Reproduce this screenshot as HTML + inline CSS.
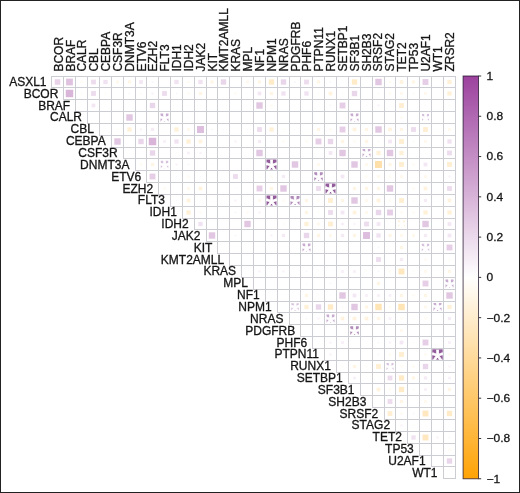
<!DOCTYPE html><html><head><meta charset="utf-8"><title>corrplot</title>
<style>html,body{margin:0;padding:0;background:#fff}body{width:520px;height:493px;overflow:hidden;position:relative}svg{position:absolute;left:0;top:0;display:block}text{font-family:"Liberation Sans",Arial,Helvetica,sans-serif;fill:#151515}.l text{stroke:#151515;stroke-width:.3px}.s text{fill:#fff;stroke:#fff;stroke-width:.7px;font-size:30px;text-anchor:middle}</style></head><body>
<svg width="520" height="493" viewBox="0 0 520 493">
<defs><linearGradient id="cb" x1="0" y1="0" x2="0" y2="1"><stop offset="0" stop-color="rgb(156,66,158)"/><stop offset="0.5" stop-color="#ffffff"/><stop offset="1" stop-color="rgb(255,163,5)"/></linearGradient></defs>
<rect x="0" y="0" width="520" height="493" fill="#fff"/>
<g><rect x="160.50" y="113.50" width="8.00" height="8.00" fill="#c8acd0"/><rect x="350.50" y="113.50" width="8.00" height="8.00" fill="#c8acd0"/><rect x="422.00" y="114.00" width="7.00" height="7.00" fill="#d6c2dc"/><rect x="362.50" y="149.00" width="8.00" height="8.00" fill="#c8acd0"/><rect x="160.75" y="160.75" width="7.50" height="7.50" fill="#d6c2dc"/><rect x="266.50" y="159.50" width="10.00" height="10.00" fill="#925c9a"/><rect x="314.25" y="172.25" width="8.50" height="8.50" fill="#b08ab8"/><rect x="325.50" y="183.50" width="10.00" height="10.00" fill="#925c9a"/><rect x="266.50" y="195.50" width="10.00" height="10.00" fill="#925c9a"/><rect x="290.50" y="196.00" width="9.00" height="9.00" fill="#b08ab8"/><rect x="398.00" y="220.50" width="7.00" height="7.00" fill="#fff0d7"/><rect x="302.50" y="243.50" width="8.00" height="8.00" fill="#c8acd0"/><rect x="421.75" y="243.75" width="7.50" height="7.50" fill="#d6c2dc"/><rect x="445.50" y="279.50" width="8.00" height="8.00" fill="#c8acd0"/><rect x="291.25" y="303.25" width="7.50" height="7.50" fill="#d6c2dc"/><rect x="433.50" y="303.00" width="8.00" height="8.00" fill="#c8acd0"/><rect x="326.50" y="314.50" width="8.00" height="8.00" fill="#c8acd0"/><rect x="350.25" y="326.25" width="8.50" height="8.50" fill="#b08ab8"/><rect x="432.30" y="349.30" width="10.40" height="10.40" fill="#925c9a"/><rect x="386.50" y="363.00" width="7.00" height="7.00" fill="#d6c2dc"/></g>
<g class="s"><text x="164.50" y="132.70">*</text><text x="354.50" y="132.70">*</text><text x="425.50" y="132.70">*</text><text x="366.50" y="168.20">*</text><text x="164.50" y="179.70">*</text><text x="271.50" y="179.70">*</text><text x="318.50" y="191.70">*</text><text x="330.50" y="203.70">*</text><text x="271.50" y="215.70">*</text><text x="295.00" y="215.70">*</text><text x="401.50" y="239.20">*</text><text x="306.50" y="262.70">*</text><text x="425.50" y="262.70">*</text><text x="449.50" y="298.70">*</text><text x="295.00" y="322.20">*</text><text x="437.50" y="322.20">*</text><text x="330.50" y="333.70">*</text><text x="354.50" y="345.70">*</text><text x="437.50" y="369.70">*</text><text x="390.00" y="381.70">*</text></g>
<g><rect x="54.72" y="79.22" width="5.56" height="5.56" fill="#e8d3e8"/><rect x="66.13" y="78.63" width="6.74" height="6.74" fill="#dfc2e0"/><rect x="80.43" y="80.93" width="2.14" height="2.14" fill="#fff9ee"/><rect x="91.09" y="79.59" width="4.82" height="4.82" fill="#eddced"/><rect x="103.36" y="79.86" width="4.28" height="4.28" fill="#f0e2f0"/><rect x="116.16" y="80.66" width="2.68" height="2.68" fill="#fff7ea"/><rect x="127.89" y="80.39" width="3.21" height="3.21" fill="#fff5e5"/><rect x="139.13" y="80.13" width="3.75" height="3.75" fill="#f2e7f3"/><rect x="151.70" y="81.20" width="1.60" height="1.60" fill="#f9f4fa"/><rect x="174.36" y="79.86" width="4.28" height="4.28" fill="#f0e2f0"/><rect x="187.43" y="80.93" width="2.14" height="2.14" fill="#fff9ee"/><rect x="198.36" y="79.86" width="4.28" height="4.28" fill="#f0e2f0"/><rect x="210.40" y="80.39" width="3.21" height="3.21" fill="#fff5e5"/><rect x="220.82" y="79.33" width="5.35" height="5.35" fill="#e9d6ea"/><rect x="246.16" y="80.66" width="2.68" height="2.68" fill="#fff7ea"/><rect x="257.89" y="80.39" width="3.21" height="3.21" fill="#fff5e5"/><rect x="268.82" y="79.33" width="5.35" height="5.35" fill="#ffebc8"/><rect x="280.82" y="79.33" width="5.35" height="5.35" fill="#e9d6ea"/><rect x="294.20" y="81.20" width="1.60" height="1.60" fill="#f9f4fa"/><rect x="304.09" y="79.59" width="4.82" height="4.82" fill="#eddced"/><rect x="316.89" y="80.39" width="3.21" height="3.21" fill="#fff5e5"/><rect x="329.70" y="81.20" width="1.60" height="1.60" fill="#f9f4fa"/><rect x="351.82" y="79.33" width="5.35" height="5.35" fill="#ffebc8"/><rect x="375.29" y="78.79" width="6.42" height="6.42" fill="#e2c7e2"/><rect x="388.93" y="80.93" width="2.14" height="2.14" fill="#fff9ee"/><rect x="399.63" y="80.13" width="3.75" height="3.75" fill="#fff3df"/><rect x="411.89" y="80.39" width="3.21" height="3.21" fill="#fff5e5"/><rect x="422.56" y="79.06" width="5.89" height="5.89" fill="#e6cfe6"/><rect x="447.36" y="79.86" width="4.28" height="4.28" fill="#fff1d8"/><rect x="65.75" y="89.75" width="7.49" height="7.49" fill="#d8b5d9"/><rect x="80.70" y="92.70" width="1.60" height="1.60" fill="#fffaf1"/><rect x="91.09" y="91.09" width="4.82" height="4.82" fill="#eddced"/><rect x="104.70" y="92.70" width="1.60" height="1.60" fill="#fffaf1"/><rect x="128.70" y="92.70" width="1.60" height="1.60" fill="#f9f4fa"/><rect x="140.20" y="92.70" width="1.60" height="1.60" fill="#fffaf1"/><rect x="151.43" y="92.43" width="2.14" height="2.14" fill="#f8f2f8"/><rect x="162.09" y="91.09" width="4.82" height="4.82" fill="#eddced"/><rect x="175.70" y="92.70" width="1.60" height="1.60" fill="#f9f4fa"/><rect x="187.43" y="92.43" width="2.14" height="2.14" fill="#fff9ee"/><rect x="198.90" y="91.89" width="3.21" height="3.21" fill="#fff5e5"/><rect x="234.43" y="92.43" width="2.14" height="2.14" fill="#fff9ee"/><rect x="246.97" y="92.97" width="1.07" height="1.07" fill="#fffbf3"/><rect x="257.63" y="91.63" width="3.75" height="3.75" fill="#f2e7f3"/><rect x="269.89" y="91.89" width="3.21" height="3.21" fill="#fff5e5"/><rect x="281.36" y="91.36" width="4.28" height="4.28" fill="#f0e2f0"/><rect x="304.36" y="91.36" width="4.28" height="4.28" fill="#f0e2f0"/><rect x="317.70" y="92.70" width="1.60" height="1.60" fill="#fffaf1"/><rect x="328.63" y="91.63" width="3.75" height="3.75" fill="#fff3df"/><rect x="341.96" y="92.97" width="1.07" height="1.07" fill="#faf6fa"/><rect x="351.82" y="90.83" width="5.35" height="5.35" fill="#e9d6ea"/><rect x="377.70" y="92.70" width="1.60" height="1.60" fill="#fffaf1"/><rect x="388.93" y="92.43" width="2.14" height="2.14" fill="#fff9ee"/><rect x="400.16" y="92.16" width="2.68" height="2.68" fill="#fff7ea"/><rect x="412.70" y="92.70" width="1.60" height="1.60" fill="#fffaf1"/><rect x="424.16" y="92.16" width="2.68" height="2.68" fill="#fff7ea"/><rect x="436.96" y="92.97" width="1.07" height="1.07" fill="#fffbf3"/><rect x="447.36" y="91.36" width="4.28" height="4.28" fill="#fff1d8"/><rect x="91.63" y="103.63" width="3.75" height="3.75" fill="#f2e7f3"/><rect x="149.82" y="102.83" width="5.35" height="5.35" fill="#e9d6ea"/><rect x="187.97" y="104.97" width="1.07" height="1.07" fill="#faf6fa"/><rect x="199.97" y="104.97" width="1.07" height="1.07" fill="#fffbf3"/><rect x="256.29" y="102.29" width="6.42" height="6.42" fill="#e2c7e2"/><rect x="270.43" y="104.43" width="2.14" height="2.14" fill="#fff9ee"/><rect x="329.70" y="104.70" width="1.60" height="1.60" fill="#f9f4fa"/><rect x="339.56" y="102.56" width="5.89" height="5.89" fill="#e6cfe6"/><rect x="365.96" y="104.97" width="1.07" height="1.07" fill="#faf6fa"/><rect x="377.43" y="104.43" width="2.14" height="2.14" fill="#f8f2f8"/><rect x="399.09" y="103.09" width="4.82" height="4.82" fill="#ffeed1"/><rect x="424.96" y="104.97" width="1.07" height="1.07" fill="#faf6fa"/><rect x="448.70" y="104.70" width="1.60" height="1.60" fill="#fffaf1"/><rect x="126.29" y="114.29" width="6.42" height="6.42" fill="#e2c7e2"/><rect x="187.97" y="116.97" width="1.07" height="1.07" fill="#faf6fa"/><rect x="377.96" y="116.97" width="1.07" height="1.07" fill="#fffbf3"/><rect x="400.43" y="116.43" width="2.14" height="2.14" fill="#fff9ee"/><rect x="448.96" y="116.97" width="1.07" height="1.07" fill="#fffbf3"/><rect x="116.70" y="128.70" width="1.60" height="1.60" fill="#fffaf1"/><rect x="127.36" y="127.36" width="4.28" height="4.28" fill="#fff1d8"/><rect x="139.93" y="128.43" width="2.14" height="2.14" fill="#f8f2f8"/><rect x="150.90" y="127.89" width="3.21" height="3.21" fill="#f5ebf5"/><rect x="163.97" y="128.97" width="1.07" height="1.07" fill="#fffbf3"/><rect x="174.36" y="127.36" width="4.28" height="4.28" fill="#fff1d8"/><rect x="187.16" y="128.16" width="2.68" height="2.68" fill="#fff7ea"/><rect x="197.02" y="126.02" width="6.96" height="6.96" fill="#ddbede"/><rect x="211.20" y="128.70" width="1.60" height="1.60" fill="#f9f4fa"/><rect x="222.97" y="128.97" width="1.07" height="1.07" fill="#faf6fa"/><rect x="246.97" y="128.97" width="1.07" height="1.07" fill="#faf6fa"/><rect x="257.09" y="127.09" width="4.82" height="4.82" fill="#eddced"/><rect x="269.36" y="127.36" width="4.28" height="4.28" fill="#fff1d8"/><rect x="282.70" y="128.70" width="1.60" height="1.60" fill="#fffaf1"/><rect x="294.46" y="128.97" width="1.07" height="1.07" fill="#faf6fa"/><rect x="305.96" y="128.97" width="1.07" height="1.07" fill="#fffbf3"/><rect x="316.89" y="127.89" width="3.21" height="3.21" fill="#fff5e5"/><rect x="329.43" y="128.43" width="2.14" height="2.14" fill="#fff9ee"/><rect x="339.56" y="126.56" width="5.89" height="5.89" fill="#e6cfe6"/><rect x="352.63" y="127.63" width="3.75" height="3.75" fill="#fff3df"/><rect x="364.89" y="127.89" width="3.21" height="3.21" fill="#fff5e5"/><rect x="375.29" y="126.29" width="6.42" height="6.42" fill="#e2c7e2"/><rect x="388.13" y="127.63" width="3.75" height="3.75" fill="#fff3df"/><rect x="399.89" y="127.89" width="3.21" height="3.21" fill="#fff5e5"/><rect x="411.09" y="127.09" width="4.82" height="4.82" fill="#eddced"/><rect x="423.09" y="127.09" width="4.82" height="4.82" fill="#ffeed1"/><rect x="436.96" y="128.97" width="1.07" height="1.07" fill="#fffbf3"/><rect x="448.16" y="128.16" width="2.68" height="2.68" fill="#fff7ea"/><rect x="114.29" y="138.29" width="6.42" height="6.42" fill="#e2c7e2"/><rect x="138.32" y="138.82" width="5.35" height="5.35" fill="#e9d6ea"/><rect x="148.75" y="137.75" width="7.49" height="7.49" fill="#d8b5d9"/><rect x="163.16" y="140.16" width="2.68" height="2.68" fill="#f7eff7"/><rect x="174.36" y="139.36" width="4.28" height="4.28" fill="#f0e2f0"/><rect x="186.36" y="139.36" width="4.28" height="4.28" fill="#fff1d8"/><rect x="198.63" y="139.63" width="3.75" height="3.75" fill="#fff3df"/><rect x="234.43" y="140.43" width="2.14" height="2.14" fill="#f8f2f8"/><rect x="257.89" y="139.90" width="3.21" height="3.21" fill="#f5ebf5"/><rect x="270.70" y="140.70" width="1.60" height="1.60" fill="#f9f4fa"/><rect x="282.43" y="140.43" width="2.14" height="2.14" fill="#fff9ee"/><rect x="305.43" y="140.43" width="2.14" height="2.14" fill="#fff9ee"/><rect x="315.56" y="138.56" width="5.89" height="5.89" fill="#e6cfe6"/><rect x="327.82" y="138.82" width="5.35" height="5.35" fill="#e9d6ea"/><rect x="340.89" y="139.90" width="3.21" height="3.21" fill="#fff5e5"/><rect x="353.43" y="140.43" width="2.14" height="2.14" fill="#fff9ee"/><rect x="364.89" y="139.90" width="3.21" height="3.21" fill="#fff5e5"/><rect x="377.70" y="140.70" width="1.60" height="1.60" fill="#fffaf1"/><rect x="388.13" y="139.63" width="3.75" height="3.75" fill="#f2e7f3"/><rect x="399.09" y="139.09" width="4.82" height="4.82" fill="#ffeed1"/><rect x="412.70" y="140.70" width="1.60" height="1.60" fill="#fffaf1"/><rect x="424.16" y="140.16" width="2.68" height="2.68" fill="#fff7ea"/><rect x="447.36" y="139.36" width="4.28" height="4.28" fill="#f0e2f0"/><rect x="149.82" y="150.32" width="5.35" height="5.35" fill="#e9d6ea"/><rect x="175.97" y="152.47" width="1.07" height="1.07" fill="#fffbf3"/><rect x="187.16" y="151.66" width="2.68" height="2.68" fill="#f7eff7"/><rect x="199.43" y="151.93" width="2.14" height="2.14" fill="#f8f2f8"/><rect x="256.29" y="149.79" width="6.42" height="6.42" fill="#e2c7e2"/><rect x="328.63" y="151.13" width="3.75" height="3.75" fill="#f2e7f3"/><rect x="339.29" y="149.79" width="6.42" height="6.42" fill="#e2c7e2"/><rect x="376.36" y="150.86" width="4.28" height="4.28" fill="#fff1d8"/><rect x="386.79" y="149.79" width="6.42" height="6.42" fill="#e2c7e2"/><rect x="399.36" y="150.86" width="4.28" height="4.28" fill="#fff1d8"/><rect x="424.96" y="152.47" width="1.07" height="1.07" fill="#fffbf3"/><rect x="447.09" y="150.59" width="4.82" height="4.82" fill="#eddced"/><rect x="139.93" y="163.43" width="2.14" height="2.14" fill="#fff9ee"/><rect x="150.90" y="162.90" width="3.21" height="3.21" fill="#fff5e5"/><rect x="175.43" y="163.43" width="2.14" height="2.14" fill="#f8f2f8"/><rect x="187.70" y="163.70" width="1.60" height="1.60" fill="#f9f4fa"/><rect x="211.47" y="163.97" width="1.07" height="1.07" fill="#faf6fa"/><rect x="282.96" y="163.97" width="1.07" height="1.07" fill="#fffbf3"/><rect x="291.79" y="161.29" width="6.42" height="6.42" fill="#e2c7e2"/><rect x="317.16" y="163.16" width="2.68" height="2.68" fill="#fff7ea"/><rect x="329.70" y="163.70" width="1.60" height="1.60" fill="#fffaf1"/><rect x="351.29" y="161.29" width="6.42" height="6.42" fill="#e2c7e2"/><rect x="365.16" y="163.16" width="2.68" height="2.68" fill="#fff7ea"/><rect x="375.02" y="161.02" width="6.96" height="6.96" fill="#ffe0aa"/><rect x="388.39" y="162.90" width="3.21" height="3.21" fill="#fff5e5"/><rect x="399.09" y="162.09" width="4.82" height="4.82" fill="#ffeed1"/><rect x="412.43" y="163.43" width="2.14" height="2.14" fill="#fff9ee"/><rect x="423.63" y="162.63" width="3.75" height="3.75" fill="#f2e7f3"/><rect x="447.09" y="162.09" width="4.82" height="4.82" fill="#ffeed1"/><rect x="149.56" y="173.56" width="5.89" height="5.89" fill="#e6cfe6"/><rect x="163.97" y="175.97" width="1.07" height="1.07" fill="#fffbf3"/><rect x="175.97" y="175.97" width="1.07" height="1.07" fill="#faf6fa"/><rect x="187.43" y="175.43" width="2.14" height="2.14" fill="#fff9ee"/><rect x="199.97" y="175.97" width="1.07" height="1.07" fill="#faf6fa"/><rect x="233.09" y="174.09" width="4.82" height="4.82" fill="#eddced"/><rect x="258.70" y="175.70" width="1.60" height="1.60" fill="#fffaf1"/><rect x="270.43" y="175.43" width="2.14" height="2.14" fill="#fff9ee"/><rect x="281.89" y="174.90" width="3.21" height="3.21" fill="#f5ebf5"/><rect x="340.63" y="174.63" width="3.75" height="3.75" fill="#f2e7f3"/><rect x="365.43" y="175.43" width="2.14" height="2.14" fill="#fff9ee"/><rect x="377.16" y="175.16" width="2.68" height="2.68" fill="#fff7ea"/><rect x="388.93" y="175.43" width="2.14" height="2.14" fill="#fff9ee"/><rect x="400.16" y="175.16" width="2.68" height="2.68" fill="#fff7ea"/><rect x="424.16" y="175.16" width="2.68" height="2.68" fill="#fff7ea"/><rect x="448.43" y="175.43" width="2.14" height="2.14" fill="#f8f2f8"/><rect x="163.43" y="187.43" width="2.14" height="2.14" fill="#fff9ee"/><rect x="175.97" y="187.97" width="1.07" height="1.07" fill="#fffbf3"/><rect x="187.16" y="187.16" width="2.68" height="2.68" fill="#fff7ea"/><rect x="198.63" y="186.63" width="3.75" height="3.75" fill="#fff3df"/><rect x="234.97" y="187.97" width="1.07" height="1.07" fill="#faf6fa"/><rect x="256.56" y="185.56" width="5.89" height="5.89" fill="#e6cfe6"/><rect x="269.89" y="186.90" width="3.21" height="3.21" fill="#fff5e5"/><rect x="280.29" y="185.29" width="6.42" height="6.42" fill="#e2c7e2"/><rect x="316.09" y="186.09" width="4.82" height="4.82" fill="#eddced"/><rect x="352.89" y="186.90" width="3.21" height="3.21" fill="#fff5e5"/><rect x="364.89" y="186.90" width="3.21" height="3.21" fill="#fff5e5"/><rect x="376.89" y="186.90" width="3.21" height="3.21" fill="#fff5e5"/><rect x="386.79" y="185.29" width="6.42" height="6.42" fill="#e2c7e2"/><rect x="412.43" y="187.43" width="2.14" height="2.14" fill="#fff9ee"/><rect x="423.63" y="186.63" width="3.75" height="3.75" fill="#fff3df"/><rect x="447.09" y="186.09" width="4.82" height="4.82" fill="#eddced"/><rect x="175.97" y="199.97" width="1.07" height="1.07" fill="#faf6fa"/><rect x="186.63" y="198.63" width="3.75" height="3.75" fill="#fff3df"/><rect x="199.97" y="199.97" width="1.07" height="1.07" fill="#fffbf3"/><rect x="234.43" y="199.43" width="2.14" height="2.14" fill="#f8f2f8"/><rect x="258.16" y="199.16" width="2.68" height="2.68" fill="#fff7ea"/><rect x="282.43" y="199.43" width="2.14" height="2.14" fill="#fff9ee"/><rect x="304.89" y="198.90" width="3.21" height="3.21" fill="#fff5e5"/><rect x="317.43" y="199.43" width="2.14" height="2.14" fill="#fff9ee"/><rect x="328.09" y="198.09" width="4.82" height="4.82" fill="#ffeed1"/><rect x="340.89" y="198.90" width="3.21" height="3.21" fill="#fff5e5"/><rect x="351.29" y="197.29" width="6.42" height="6.42" fill="#e2c7e2"/><rect x="365.16" y="199.16" width="2.68" height="2.68" fill="#fff7ea"/><rect x="376.63" y="198.63" width="3.75" height="3.75" fill="#fff3df"/><rect x="388.93" y="199.43" width="2.14" height="2.14" fill="#fff9ee"/><rect x="399.09" y="198.09" width="4.82" height="4.82" fill="#ffeed1"/><rect x="412.70" y="199.70" width="1.60" height="1.60" fill="#fffaf1"/><rect x="423.89" y="198.90" width="3.21" height="3.21" fill="#f5ebf5"/><rect x="447.63" y="198.63" width="3.75" height="3.75" fill="#fff3df"/><rect x="186.36" y="210.36" width="4.28" height="4.28" fill="#fff1d8"/><rect x="199.43" y="211.43" width="2.14" height="2.14" fill="#fff9ee"/><rect x="234.70" y="211.70" width="1.60" height="1.60" fill="#f9f4fa"/><rect x="246.43" y="211.43" width="2.14" height="2.14" fill="#fff9ee"/><rect x="258.43" y="211.43" width="2.14" height="2.14" fill="#f8f2f8"/><rect x="304.89" y="210.90" width="3.21" height="3.21" fill="#fff5e5"/><rect x="317.70" y="211.70" width="1.60" height="1.60" fill="#fffaf1"/><rect x="328.09" y="210.09" width="4.82" height="4.82" fill="#eddced"/><rect x="340.63" y="210.63" width="3.75" height="3.75" fill="#f2e7f3"/><rect x="352.63" y="210.63" width="3.75" height="3.75" fill="#fff3df"/><rect x="365.16" y="211.16" width="2.68" height="2.68" fill="#fff7ea"/><rect x="375.82" y="209.82" width="5.35" height="5.35" fill="#e9d6ea"/><rect x="387.06" y="209.56" width="5.89" height="5.89" fill="#e6cfe6"/><rect x="400.43" y="211.43" width="2.14" height="2.14" fill="#fff9ee"/><rect x="412.43" y="211.43" width="2.14" height="2.14" fill="#fff9ee"/><rect x="423.36" y="210.36" width="4.28" height="4.28" fill="#fff1d8"/><rect x="447.36" y="210.36" width="4.28" height="4.28" fill="#fff1d8"/><rect x="198.36" y="221.86" width="4.28" height="4.28" fill="#f0e2f0"/><rect x="244.29" y="220.79" width="6.42" height="6.42" fill="#e2c7e2"/><rect x="282.70" y="223.20" width="1.60" height="1.60" fill="#fffaf1"/><rect x="304.36" y="221.86" width="4.28" height="4.28" fill="#fff1d8"/><rect x="317.16" y="222.66" width="2.68" height="2.68" fill="#fff7ea"/><rect x="328.09" y="221.59" width="4.82" height="4.82" fill="#ffeed1"/><rect x="341.16" y="222.66" width="2.68" height="2.68" fill="#f7eff7"/><rect x="353.43" y="222.93" width="2.14" height="2.14" fill="#f8f2f8"/><rect x="364.09" y="221.59" width="4.82" height="4.82" fill="#eddced"/><rect x="376.63" y="222.13" width="3.75" height="3.75" fill="#f2e7f3"/><rect x="422.29" y="220.79" width="6.42" height="6.42" fill="#e2c7e2"/><rect x="447.63" y="222.13" width="3.75" height="3.75" fill="#f2e7f3"/><rect x="208.79" y="232.29" width="6.42" height="6.42" fill="#e2c7e2"/><rect x="234.70" y="234.70" width="1.60" height="1.60" fill="#f9f4fa"/><rect x="270.43" y="234.43" width="2.14" height="2.14" fill="#f8f2f8"/><rect x="281.89" y="233.90" width="3.21" height="3.21" fill="#f5ebf5"/><rect x="303.82" y="232.82" width="5.35" height="5.35" fill="#e9d6ea"/><rect x="316.89" y="233.90" width="3.21" height="3.21" fill="#fff5e5"/><rect x="329.16" y="234.16" width="2.68" height="2.68" fill="#fff7ea"/><rect x="340.89" y="233.90" width="3.21" height="3.21" fill="#f5ebf5"/><rect x="352.89" y="233.90" width="3.21" height="3.21" fill="#fff5e5"/><rect x="363.02" y="232.02" width="6.96" height="6.96" fill="#ddbede"/><rect x="376.36" y="233.36" width="4.28" height="4.28" fill="#f0e2f0"/><rect x="388.39" y="233.90" width="3.21" height="3.21" fill="#fff5e5"/><rect x="400.16" y="234.16" width="2.68" height="2.68" fill="#fff7ea"/><rect x="412.16" y="234.16" width="2.68" height="2.68" fill="#fff7ea"/><rect x="423.89" y="233.90" width="3.21" height="3.21" fill="#f5ebf5"/><rect x="447.63" y="233.63" width="3.75" height="3.75" fill="#f2e7f3"/><rect x="377.70" y="246.70" width="1.60" height="1.60" fill="#f9f4fa"/><rect x="399.89" y="245.90" width="3.21" height="3.21" fill="#fff5e5"/><rect x="446.56" y="244.56" width="5.89" height="5.89" fill="#e6cfe6"/><rect x="329.96" y="258.96" width="1.07" height="1.07" fill="#fffbf3"/><rect x="365.96" y="258.96" width="1.07" height="1.07" fill="#fffbf3"/><rect x="376.09" y="257.09" width="4.82" height="4.82" fill="#eddced"/><rect x="399.89" y="257.89" width="3.21" height="3.21" fill="#f5ebf5"/><rect x="424.43" y="258.43" width="2.14" height="2.14" fill="#fff9ee"/><rect x="448.70" y="258.70" width="1.60" height="1.60" fill="#fffaf1"/><rect x="258.43" y="270.43" width="2.14" height="2.14" fill="#f8f2f8"/><rect x="282.43" y="270.43" width="2.14" height="2.14" fill="#f8f2f8"/><rect x="305.70" y="270.70" width="1.60" height="1.60" fill="#f9f4fa"/><rect x="317.96" y="270.96" width="1.07" height="1.07" fill="#fffbf3"/><rect x="341.16" y="270.16" width="2.68" height="2.68" fill="#f7eff7"/><rect x="353.16" y="270.16" width="2.68" height="2.68" fill="#f7eff7"/><rect x="365.70" y="270.70" width="1.60" height="1.60" fill="#fffaf1"/><rect x="377.70" y="270.70" width="1.60" height="1.60" fill="#f9f4fa"/><rect x="388.93" y="270.43" width="2.14" height="2.14" fill="#fff9ee"/><rect x="398.56" y="268.56" width="5.89" height="5.89" fill="#ffe7bf"/><rect x="412.70" y="270.70" width="1.60" height="1.60" fill="#fffaf1"/><rect x="424.16" y="270.16" width="2.68" height="2.68" fill="#fff7ea"/><rect x="447.89" y="269.89" width="3.21" height="3.21" fill="#fff5e5"/><rect x="305.96" y="282.96" width="1.07" height="1.07" fill="#faf6fa"/><rect x="329.70" y="282.70" width="1.60" height="1.60" fill="#f9f4fa"/><rect x="376.89" y="281.89" width="3.21" height="3.21" fill="#fff5e5"/><rect x="422.56" y="280.56" width="5.89" height="5.89" fill="#e6cfe6"/><rect x="304.89" y="293.89" width="3.21" height="3.21" fill="#fff5e5"/><rect x="317.96" y="294.96" width="1.07" height="1.07" fill="#fffbf3"/><rect x="329.96" y="294.96" width="1.07" height="1.07" fill="#faf6fa"/><rect x="339.29" y="292.29" width="6.42" height="6.42" fill="#e2c7e2"/><rect x="352.63" y="293.63" width="3.75" height="3.75" fill="#f2e7f3"/><rect x="365.16" y="294.16" width="2.68" height="2.68" fill="#f7eff7"/><rect x="377.16" y="294.16" width="2.68" height="2.68" fill="#f7eff7"/><rect x="388.66" y="294.16" width="2.68" height="2.68" fill="#f7eff7"/><rect x="399.89" y="293.89" width="3.21" height="3.21" fill="#fff5e5"/><rect x="412.43" y="294.43" width="2.14" height="2.14" fill="#fff9ee"/><rect x="423.89" y="293.89" width="3.21" height="3.21" fill="#fff5e5"/><rect x="446.29" y="292.29" width="6.42" height="6.42" fill="#e2c7e2"/><rect x="304.36" y="304.86" width="4.28" height="4.28" fill="#fff1d8"/><rect x="315.82" y="304.32" width="5.35" height="5.35" fill="#e9d6ea"/><rect x="327.82" y="304.32" width="5.35" height="5.35" fill="#ffebc8"/><rect x="341.70" y="306.20" width="1.60" height="1.60" fill="#fffaf1"/><rect x="351.29" y="303.79" width="6.42" height="6.42" fill="#e2c7e2"/><rect x="364.89" y="305.39" width="3.21" height="3.21" fill="#fff5e5"/><rect x="375.29" y="303.79" width="6.42" height="6.42" fill="#ffe4b5"/><rect x="388.93" y="305.93" width="2.14" height="2.14" fill="#fff9ee"/><rect x="398.29" y="303.79" width="6.42" height="6.42" fill="#ffe4b5"/><rect x="424.16" y="305.66" width="2.68" height="2.68" fill="#fff7ea"/><rect x="447.36" y="304.86" width="4.28" height="4.28" fill="#fff1d8"/><rect x="305.70" y="317.70" width="1.60" height="1.60" fill="#f9f4fa"/><rect x="317.43" y="317.43" width="2.14" height="2.14" fill="#f8f2f8"/><rect x="340.63" y="316.63" width="3.75" height="3.75" fill="#fff3df"/><rect x="352.63" y="316.63" width="3.75" height="3.75" fill="#fff3df"/><rect x="364.63" y="316.63" width="3.75" height="3.75" fill="#fff3df"/><rect x="376.89" y="316.89" width="3.21" height="3.21" fill="#fff5e5"/><rect x="388.66" y="317.16" width="2.68" height="2.68" fill="#f7eff7"/><rect x="400.43" y="317.43" width="2.14" height="2.14" fill="#fff9ee"/><rect x="412.70" y="317.70" width="1.60" height="1.60" fill="#fffaf1"/><rect x="424.43" y="317.43" width="2.14" height="2.14" fill="#fff9ee"/><rect x="447.89" y="316.89" width="3.21" height="3.21" fill="#f5ebf5"/><rect x="400.16" y="329.16" width="2.68" height="2.68" fill="#fff7ea"/><rect x="329.43" y="341.43" width="2.14" height="2.14" fill="#f8f2f8"/><rect x="341.16" y="341.16" width="2.68" height="2.68" fill="#f7eff7"/><rect x="377.70" y="341.70" width="1.60" height="1.60" fill="#f9f4fa"/><rect x="388.93" y="341.43" width="2.14" height="2.14" fill="#f8f2f8"/><rect x="399.63" y="340.63" width="3.75" height="3.75" fill="#f2e7f3"/><rect x="412.96" y="341.96" width="1.07" height="1.07" fill="#faf6fa"/><rect x="422.56" y="339.56" width="5.89" height="5.89" fill="#e6cfe6"/><rect x="448.16" y="341.16" width="2.68" height="2.68" fill="#f7eff7"/><rect x="329.43" y="353.43" width="2.14" height="2.14" fill="#f8f2f8"/><rect x="377.70" y="353.70" width="1.60" height="1.60" fill="#f9f4fa"/><rect x="388.93" y="353.43" width="2.14" height="2.14" fill="#fff9ee"/><rect x="399.09" y="352.09" width="4.82" height="4.82" fill="#ffeed1"/><rect x="424.43" y="353.43" width="2.14" height="2.14" fill="#fff9ee"/><rect x="448.43" y="353.43" width="2.14" height="2.14" fill="#fff9ee"/><rect x="341.70" y="365.70" width="1.60" height="1.60" fill="#fffaf1"/><rect x="352.89" y="364.89" width="3.21" height="3.21" fill="#fff5e5"/><rect x="365.70" y="365.70" width="1.60" height="1.60" fill="#fffaf1"/><rect x="376.09" y="364.09" width="4.82" height="4.82" fill="#ffeed1"/><rect x="400.43" y="365.43" width="2.14" height="2.14" fill="#fff9ee"/><rect x="412.43" y="365.43" width="2.14" height="2.14" fill="#fff9ee"/><rect x="422.82" y="363.82" width="5.35" height="5.35" fill="#e9d6ea"/><rect x="448.43" y="365.43" width="2.14" height="2.14" fill="#f8f2f8"/><rect x="353.16" y="376.66" width="2.68" height="2.68" fill="#f7eff7"/><rect x="377.96" y="377.46" width="1.07" height="1.07" fill="#faf6fa"/><rect x="387.59" y="375.59" width="4.82" height="4.82" fill="#eddced"/><rect x="398.82" y="375.32" width="5.35" height="5.35" fill="#ffebc8"/><rect x="411.89" y="376.39" width="3.21" height="3.21" fill="#fff5e5"/><rect x="423.89" y="376.39" width="3.21" height="3.21" fill="#f5ebf5"/><rect x="448.16" y="376.66" width="2.68" height="2.68" fill="#f7eff7"/><rect x="376.63" y="387.63" width="3.75" height="3.75" fill="#fff3df"/><rect x="388.93" y="388.43" width="2.14" height="2.14" fill="#fff9ee"/><rect x="398.82" y="386.82" width="5.35" height="5.35" fill="#ffebc8"/><rect x="412.70" y="388.70" width="1.60" height="1.60" fill="#fffaf1"/><rect x="424.16" y="388.16" width="2.68" height="2.68" fill="#f7eff7"/><rect x="447.89" y="387.89" width="3.21" height="3.21" fill="#fff5e5"/><rect x="377.96" y="400.96" width="1.07" height="1.07" fill="#fffbf3"/><rect x="387.59" y="399.09" width="4.82" height="4.82" fill="#eddced"/><rect x="399.89" y="399.89" width="3.21" height="3.21" fill="#fff5e5"/><rect x="424.16" y="400.16" width="2.68" height="2.68" fill="#fff7ea"/><rect x="448.70" y="400.70" width="1.60" height="1.60" fill="#fffaf1"/><rect x="387.59" y="411.09" width="4.82" height="4.82" fill="#ffeed1"/><rect x="400.43" y="412.43" width="2.14" height="2.14" fill="#fff9ee"/><rect x="412.70" y="412.70" width="1.60" height="1.60" fill="#f9f4fa"/><rect x="422.56" y="410.56" width="5.89" height="5.89" fill="#ffe7bf"/><rect x="436.96" y="412.96" width="1.07" height="1.07" fill="#faf6fa"/><rect x="446.82" y="410.82" width="5.35" height="5.35" fill="#ffebc8"/><rect x="400.43" y="424.43" width="2.14" height="2.14" fill="#f8f2f8"/><rect x="412.70" y="424.70" width="1.60" height="1.60" fill="#fffaf1"/><rect x="424.96" y="424.96" width="1.07" height="1.07" fill="#fffbf3"/><rect x="411.36" y="435.36" width="4.28" height="4.28" fill="#f0e2f0"/><rect x="422.56" y="434.56" width="5.89" height="5.89" fill="#ffe7bf"/><rect x="436.43" y="436.43" width="2.14" height="2.14" fill="#f8f2f8"/><rect x="448.70" y="436.70" width="1.60" height="1.60" fill="#f9f4fa"/><rect x="448.43" y="448.43" width="2.14" height="2.14" fill="#fff9ee"/><rect x="446.82" y="458.32" width="5.35" height="5.35" fill="#e9d6ea"/></g>
<path d="M51 76.5H456M51 87.5H456M63 99.5H456M75 111.5H456M87 123.5H456M99 135.5H456M111 147.5H456M123 158.5H456M135 170.5H456M146 182.5H456M158 194.5H456M170 206.5H456M182 218.5H456M194 229.5H456M206 241.5H456M217 253.5H456M229 265.5H456M241 277.5H456M253 289.5H456M265 301.5H456M277 312.5H456M289 324.5H456M300 336.5H456M312 348.5H456M324 360.5H456M336 372.5H456M348 383.5H456M360 395.5H456M372 407.5H456M384 419.5H456M395 431.5H456M407 443.5H456M419 455.5H456M431 466.5H456M443 478.5H456M51.5 76V88M63.5 76V100M75.5 76V112M87.5 76V124M99.5 76V136M111.5 76V148M123.5 76V159M135.5 76V171M146.5 76V183M158.5 76V195M170.5 76V207M182.5 76V219M194.5 76V230M206.5 76V242M217.5 76V254M229.5 76V266M241.5 76V278M253.5 76V290M265.5 76V302M277.5 76V313M289.5 76V325M300.5 76V337M312.5 76V349M324.5 76V361M336.5 76V373M348.5 76V384M360.5 76V396M372.5 76V408M384.5 76V420M395.5 76V432M407.5 76V444M419.5 76V456M431.5 76V467M443.5 76V479M455.5 76V479" stroke="#ccccd3" stroke-width="1" shape-rendering="crispEdges" fill="none"/>
<g class="l">
<text x="46.50" y="85.89" text-anchor="end" font-size="12.0">ASXL1</text>
<text x="58.35" y="97.74" text-anchor="end" font-size="12.0">BCOR</text>
<text x="70.20" y="109.59" text-anchor="end" font-size="12.0">BRAF</text>
<text x="82.04" y="121.43" text-anchor="end" font-size="12.0">CALR</text>
<text x="93.89" y="133.28" text-anchor="end" font-size="12.0">CBL</text>
<text x="105.74" y="145.12" text-anchor="end" font-size="12.0">CEBPA</text>
<text x="117.59" y="156.97" text-anchor="end" font-size="12.0">CSF3R</text>
<text x="129.44" y="168.81" text-anchor="end" font-size="12.0">DNMT3A</text>
<text x="141.28" y="180.66" text-anchor="end" font-size="12.0">ETV6</text>
<text x="153.13" y="192.51" text-anchor="end" font-size="12.0">EZH2</text>
<text x="164.98" y="204.35" text-anchor="end" font-size="12.0">FLT3</text>
<text x="176.83" y="216.20" text-anchor="end" font-size="12.0">IDH1</text>
<text x="188.68" y="228.04" text-anchor="end" font-size="12.0">IDH2</text>
<text x="200.52" y="239.89" text-anchor="end" font-size="12.0">JAK2</text>
<text x="212.37" y="251.74" text-anchor="end" font-size="12.0">KIT</text>
<text x="224.22" y="263.58" text-anchor="end" font-size="12.0">KMT2AMLL</text>
<text x="236.07" y="275.43" text-anchor="end" font-size="12.0">KRAS</text>
<text x="247.92" y="287.28" text-anchor="end" font-size="12.0">MPL</text>
<text x="259.76" y="299.12" text-anchor="end" font-size="12.0">NF1</text>
<text x="271.61" y="310.97" text-anchor="end" font-size="12.0">NPM1</text>
<text x="283.46" y="322.81" text-anchor="end" font-size="12.0">NRAS</text>
<text x="295.31" y="334.66" text-anchor="end" font-size="12.0">PDGFRB</text>
<text x="307.16" y="346.51" text-anchor="end" font-size="12.0">PHF6</text>
<text x="319.00" y="358.35" text-anchor="end" font-size="12.0">PTPN11</text>
<text x="330.85" y="370.20" text-anchor="end" font-size="12.0">RUNX1</text>
<text x="342.70" y="382.04" text-anchor="end" font-size="12.0">SETBP1</text>
<text x="354.55" y="393.89" text-anchor="end" font-size="12.0">SF3B1</text>
<text x="366.40" y="405.74" text-anchor="end" font-size="12.0">SH2B3</text>
<text x="378.24" y="417.58" text-anchor="end" font-size="12.0">SRSF2</text>
<text x="390.09" y="429.43" text-anchor="end" font-size="12.0">STAG2</text>
<text x="401.94" y="441.27" text-anchor="end" font-size="12.0">TET2</text>
<text x="413.79" y="453.12" text-anchor="end" font-size="12.0">TP53</text>
<text x="425.64" y="464.97" text-anchor="end" font-size="12.0">U2AF1</text>
<text x="437.48" y="476.81" text-anchor="end" font-size="12.0">WT1</text>
<text transform="translate(62.66 71.55) rotate(-90)" font-size="12.0">BCOR</text>
<text transform="translate(74.50 71.55) rotate(-90)" font-size="12.0">BRAF</text>
<text transform="translate(86.35 71.55) rotate(-90)" font-size="12.0">CALR</text>
<text transform="translate(98.19 71.55) rotate(-90)" font-size="12.0">CBL</text>
<text transform="translate(110.04 71.55) rotate(-90)" font-size="12.0">CEBPA</text>
<text transform="translate(121.88 71.55) rotate(-90)" font-size="12.0">CSF3R</text>
<text transform="translate(133.73 71.55) rotate(-90)" font-size="12.0">DNMT3A</text>
<text transform="translate(145.57 71.55) rotate(-90)" font-size="12.0">ETV6</text>
<text transform="translate(157.42 71.55) rotate(-90)" font-size="12.0">EZH2</text>
<text transform="translate(169.26 71.55) rotate(-90)" font-size="12.0">FLT3</text>
<text transform="translate(181.11 71.55) rotate(-90)" font-size="12.0">IDH1</text>
<text transform="translate(192.96 71.55) rotate(-90)" font-size="12.0">IDH2</text>
<text transform="translate(204.80 71.55) rotate(-90)" font-size="12.0">JAK2</text>
<text transform="translate(216.65 71.55) rotate(-90)" font-size="12.0">KIT</text>
<text transform="translate(228.49 71.55) rotate(-90)" font-size="12.0">KMT2AMLL</text>
<text transform="translate(240.34 71.55) rotate(-90)" font-size="12.0">KRAS</text>
<text transform="translate(252.18 71.55) rotate(-90)" font-size="12.0">MPL</text>
<text transform="translate(264.02 71.55) rotate(-90)" font-size="12.0">NF1</text>
<text transform="translate(275.87 71.55) rotate(-90)" font-size="12.0">NPM1</text>
<text transform="translate(287.72 71.55) rotate(-90)" font-size="12.0">NRAS</text>
<text transform="translate(299.56 71.55) rotate(-90)" font-size="12.0">PDGFRB</text>
<text transform="translate(311.40 71.55) rotate(-90)" font-size="12.0">PHF6</text>
<text transform="translate(323.25 71.55) rotate(-90)" font-size="12.0">PTPN11</text>
<text transform="translate(335.10 71.55) rotate(-90)" font-size="12.0">RUNX1</text>
<text transform="translate(346.94 71.55) rotate(-90)" font-size="12.0">SETBP1</text>
<text transform="translate(358.78 71.55) rotate(-90)" font-size="12.0">SF3B1</text>
<text transform="translate(370.63 71.55) rotate(-90)" font-size="12.0">SH2B3</text>
<text transform="translate(382.48 71.55) rotate(-90)" font-size="12.0">SRSF2</text>
<text transform="translate(394.32 71.55) rotate(-90)" font-size="12.0">STAG2</text>
<text transform="translate(406.16 71.55) rotate(-90)" font-size="12.0">TET2</text>
<text transform="translate(418.01 71.55) rotate(-90)" font-size="12.0">TP53</text>
<text transform="translate(429.86 71.55) rotate(-90)" font-size="12.0">U2AF1</text>
<text transform="translate(441.70 71.55) rotate(-90)" font-size="12.0">WT1</text>
<text transform="translate(453.55 71.55) rotate(-90)" font-size="12.0">ZRSR2</text>
<text transform="translate(486.5 79.85) scale(1 .88)" font-size="12.0">1</text>
<text transform="translate(486.5 120.13) scale(1 .88)" font-size="12.0">0.8</text>
<text transform="translate(486.5 160.40) scale(1 .88)" font-size="12.0">0.6</text>
<text transform="translate(486.5 200.68) scale(1 .88)" font-size="12.0">0.4</text>
<text transform="translate(486.5 240.96) scale(1 .88)" font-size="12.0">0.2</text>
<text transform="translate(486.5 281.23) scale(1 .88)" font-size="12.0">0</text>
<text transform="translate(486.5 321.51) scale(1 .88)" font-size="12.0">−0.2</text>
<text transform="translate(486.5 361.78) scale(1 .88)" font-size="12.0">−0.4</text>
<text transform="translate(486.5 402.06) scale(1 .88)" font-size="12.0">−0.6</text>
<text transform="translate(486.5 442.34) scale(1 .88)" font-size="12.0">−0.8</text>
<text transform="translate(486.5 482.61) scale(1 .88)" font-size="12.0">−1</text>
</g>
<path d="M478.5 76.00h2.7M478.5 116.28h2.7M478.5 156.55h2.7M478.5 196.83h2.7M478.5 237.11h2.7M478.5 277.38h2.7M478.5 317.66h2.7M478.5 357.93h2.7M478.5 398.21h2.7M478.5 438.49h2.7M478.5 478.76h2.7" stroke="#222" stroke-width="0.9" fill="none"/>
<rect x="463.1" y="76.0" width="15.4" height="402.76" fill="url(#cb)" stroke="#1a0c22" stroke-opacity="0.72" stroke-width="1"/>
<rect x="0.5" y="0.5" width="519" height="492" fill="none" stroke="#222" stroke-width="1"/>
</svg></body></html>
